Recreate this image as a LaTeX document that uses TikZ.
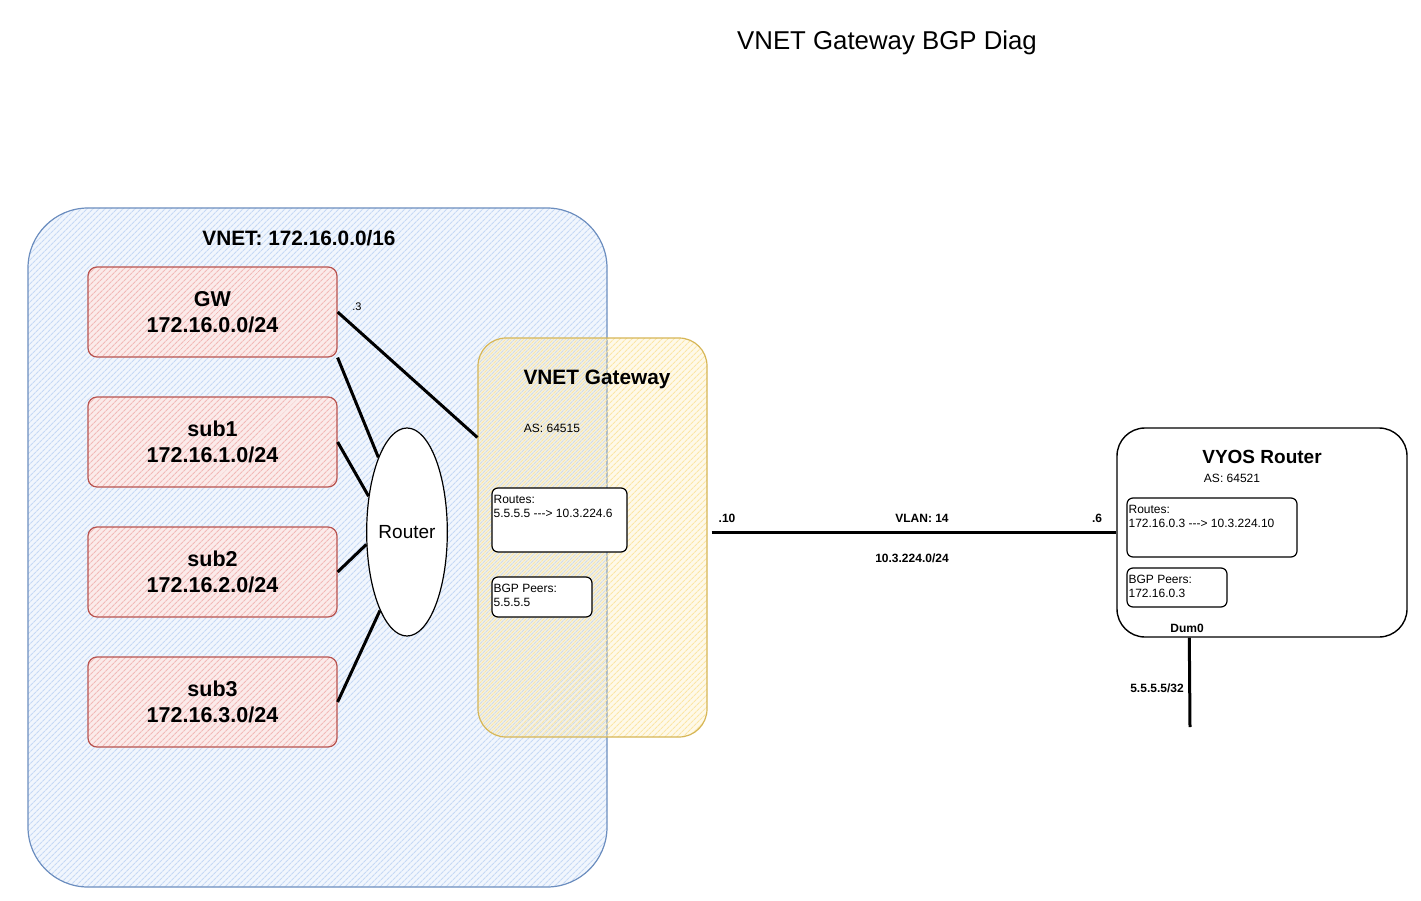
\documentclass[tikz,border=0pt]{standalone}
\usepackage{fontspec}
\setmainfont{Liberation Sans}
\usetikzlibrary{shapes.geometric,patterns.meta,calc}
\definecolor{vbstroke}{HTML}{6C8EBF}
\definecolor{vbhatch}{HTML}{C6D9F5}
\definecolor{vbbase}{HTML}{F1F6FD}
\definecolor{rdstroke}{HTML}{B85450}
\definecolor{rdhatch}{HTML}{F2B9B7}
\definecolor{rdbase}{HTML}{FBEBEA}
\definecolor{ylstroke}{HTML}{D6B656}
\definecolor{ylhatch}{HTML}{FBE6A6}
\tikzset{
  big/.style={font=\fontsize{21.5}{26}\selectfont\bfseries},
  small/.style={font=\fontsize{12}{14}\selectfont},
  smallb/.style={font=\fontsize{12}{14}\selectfont\bfseries},
  vnetbox/.style={draw=vbstroke, line width=1.2pt, rounded corners=60pt,
    preaction={fill=vbbase}, pattern={Lines[angle=45,distance=4pt,line width=1.2pt]}, pattern color=vbhatch},
  subbox/.style={draw=rdstroke, line width=1.2pt, rounded corners=9pt, minimum width=249pt, minimum height=90pt,
    preaction={fill=rdbase}, pattern={Lines[angle=45,distance=4pt,line width=1.2pt]}, pattern color=rdhatch,
    big, align=center, inner sep=0pt},
  gatebox/.style={draw=ylstroke, line width=1.2pt, rounded corners=28pt,
    preaction={fill=ylhatch, fill opacity=0.25}, pattern={Lines[angle=45,distance=4pt,line width=1.2pt]}, pattern color=ylhatch},
  infobox/.style={draw=black, line width=1.2pt, rounded corners=6pt, fill=white, inner sep=0pt},
  infotext/.style={small, align=left, anchor=north west, inner sep=0pt},
  wire/.style={draw=black, line width=3pt},
}
\begin{document}
\begin{tikzpicture}[x=1pt,y=-1pt]
\useasboundingbox (0,0) rectangle (1421,901);
% title
\node[font=\fontsize{25.8}{30}\selectfont] (title) at (887,43) {VNET Gateway BGP Diag};
% VNET
\path[vnetbox] (28,208) rectangle (607,887);
\node[big, font=\fontsize{20.8}{26}\selectfont\bfseries] (vnetlbl) at (299,238) {VNET: 172.16.0.0/16};
% subnets
\node[subbox] (gw) at (212.5,312) {GW\\172.16.0.0/24};
\node[subbox] (sub1) at (212.5,442) {sub1\\172.16.1.0/24};
\node[subbox] (sub2) at (212.5,572) {sub2\\172.16.2.0/24};
\node[subbox] (sub3) at (212.5,702) {sub3\\172.16.3.0/24};
% gateway
\node[gatebox, minimum width=229pt, minimum height=399pt, inner sep=0pt] (gate) at (592.5,537.5) {};
\node[big, font=\fontsize{20.8}{26}\selectfont\bfseries] (gatelbl) at (597,379) {VNET Gateway};
\node[small] (gateas) at (552,428) {AS: 64515};
\node[infobox, minimum width=135pt, minimum height=64pt] (groutes) at (559.5,520) {};
\node[infotext] (groutest) at ($(groutes.north west)+(2,8)$) {Routes:\\5.5.5.5 -{}-{}-> 10.3.224.6};
\node[infobox, minimum width=100pt, minimum height=40pt] (gpeers) at (542,597) {};
\node[infotext] (gpeerst) at ($(gpeers.north west)+(2,8)$) {BGP Peers:\\5.5.5.5};
% router
\node[draw=black, line width=1.2pt, fill=white, ellipse, minimum width=78pt, minimum height=208pt, inner sep=0pt,
  font=\fontsize{19}{22}\selectfont] (router) at (407,532) {Router};
% wires
\coordinate (gatein) at ($(gate.north west)!0.25!(gate.south west)$);
\draw[wire] (gw.east) -- (gatein);
\node[font=\fontsize{11}{13}\selectfont] (dot3) at (357,307) {.3};
\draw[wire] (gw.south east) -- (router.111);
\draw[wire] (sub1.east) -- (router.137);
\draw[wire] (sub2.east) -- (router.197);
\draw[wire] (sub3.east) -- (router.251);
% VYOS
\node[draw=black, line width=1.4pt, rounded corners=28pt, fill=white, minimum width=290pt, minimum height=209pt, inner sep=0pt] (vyos) at (1262,532.5) {};
\node[font=\fontsize{19}{22}\selectfont\bfseries] (vyoslbl) at (1262,457) {VYOS Router};
\node[small] (vyosas) at (1232,478) {AS: 64521};
\node[infobox, minimum width=170pt, minimum height=59pt] (vroutes) at (1212,527.5) {};
\node[infotext] (vroutest) at ($(vroutes.north west)+(2,8)$) {Routes:\\172.16.0.3 -{}-{}-> 10.3.224.10};
\node[infobox, minimum width=100pt, minimum height=39pt] (vpeers) at (1177,587.5) {};
\node[infotext] (vpeerst) at ($(vpeers.north west)+(2,8)$) {BGP Peers:\\172.16.0.3};
\node[smallb] (dum) at (1187,628) {Dum0};
% link
\coordinate (linka) at ($(gate.east |- vyos.west)+(4,0)$);
\draw[wire] (linka) -- (vyos.west);
\node[smallb] (l10) at (727,518) {.10};
\node[smallb] (vlan) at (922,518) {VLAN: 14};
\node[smallb] (l6) at (1097,518) {.6};
\node[smallb] (subnet) at (912,558) {10.3.224.0/24};
% dum line
\coordinate (dumtop) at ($(vyos.south west)+(73,0)$);
\coordinate (dumend) at (1190,727);
\draw[wire] (dumtop) -- (dumend);
\node[smallb] (dumip) at (1157,688) {5.5.5.5/32};
\end{tikzpicture}
\end{document}
